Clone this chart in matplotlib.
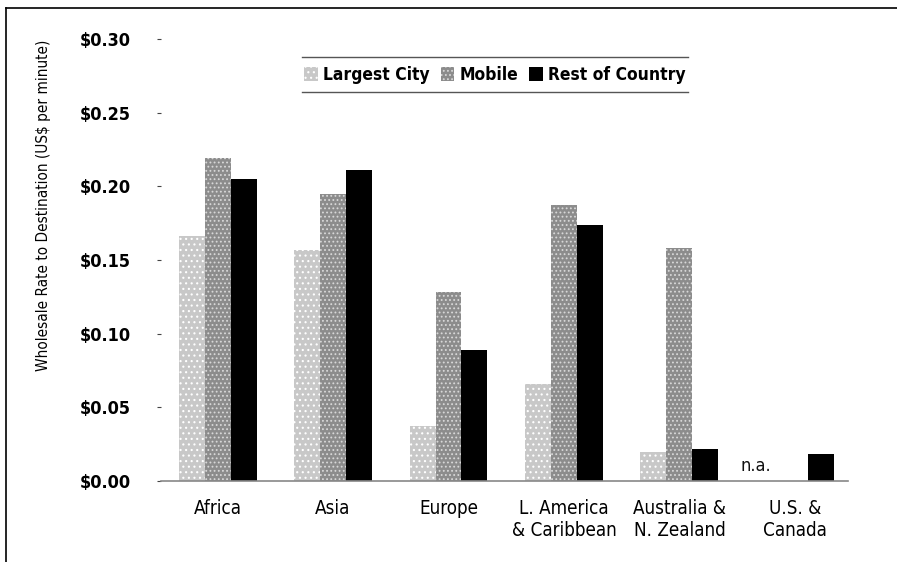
import matplotlib
matplotlib.use("Agg")
import matplotlib.pyplot as plt
from matplotlib.patches import Patch
from matplotlib.lines import Line2D
import numpy as np

plt.rcParams['font.family'] = ['DejaVu Sans']
plt.rcParams['font.stretch'] = 'condensed'
plt.rcParams['hatch.linewidth'] = 0.8

regions = ["Africa", "Asia", "Europe", "L. America\n& Caribbean",
           "Australia &\nN. Zealand", "U.S. &\nCanada"]
largest_city = [0.166, 0.157, 0.037, 0.066, 0.020, np.nan]
mobile = [0.219, 0.195, 0.128, 0.187, 0.158, np.nan]
rest_of_country = [0.205, 0.211, 0.089, 0.174, 0.022, 0.018]
series_names = ["Largest City", "Mobile", "Rest of Country"]
yticks = [0.00, 0.05, 0.10, 0.15, 0.20, 0.25, 0.30]
ylabel = "Wholesale Rate to Destination (US$ per minute)"
na_label = "n.a."

W, H = 897, 562
fig = plt.figure(figsize=(W / 100, H / 100), dpi=100)
ax = fig.add_axes([161 / W, 1 - 481 / H, (848 - 161) / W, (481 - 39) / H])

x = np.arange(len(regions))
bw = 0.225
styles = [
    dict(facecolor="#c8c8c8", edgecolor="white", hatch="..."),
    dict(facecolor="#8c8c8c", edgecolor="#d8d8d8", hatch="...."),
    dict(facecolor="black", edgecolor="black", hatch=None),
]
for k, vals in enumerate([largest_city, mobile, rest_of_country]):
    v = np.nan_to_num(np.array(vals, dtype=float))
    ax.bar(x + (k - 1) * bw, v, width=bw, linewidth=0, **styles[k])

# missing value note for U.S. & Canada
ax.text(x[-1] - 1.5 * bw, 0.010, na_label, ha="center", va="center",
        fontsize=13, color="#111")

ax.set_xlim(-0.49, 5.46)
ax.set_ylim(0, 0.30)
ax.set_yticks(yticks)
ax.set_yticklabels([f"${t:.2f}" for t in yticks], fontsize=13, fontweight="bold")
ax.set_xticks(x)
ax.set_xticklabels(regions, fontsize=13.5)
ax.tick_params(axis="x", length=0, pad=13)
ax.tick_params(axis="y", length=3, width=0.8, color="#444", pad=19)
for s in ["top", "right", "left"]:
    ax.spines[s].set_visible(False)
ax.spines["bottom"].set_color("#888888")
ax.spines["bottom"].set_linewidth(1.2)

fig.text(44 / W, 1 - 205 / H, ylabel, rotation=90, ha="center", va="center",
         fontsize=11)

handles = [Patch(**styles[k], linewidth=0) for k in range(3)]
fig.legend(handles, series_names, loc="center", bbox_to_anchor=(495 / W, 1 - 75 / H),
           ncol=3, frameon=False, handlelength=0.8, handleheight=0.8,
           handletextpad=0.3, columnspacing=0.6,
           prop=dict(size=12.5, weight="bold", stretch="condensed"))
for yy in (57, 92):
    fig.add_artist(Line2D([302 / W, 688 / W], [1 - yy / H, 1 - yy / H],
                          color="#555555", lw=1))

# outer frame
fig.add_artist(Line2D([6 / W, 1.0], [1 - 8 / H, 1 - 8 / H], color="black", lw=1.2))
fig.add_artist(Line2D([6 / W, 6 / W], [0, 1 - 8 / H], color="black", lw=1.2))

fig.savefig("out.png", dpi=100)
